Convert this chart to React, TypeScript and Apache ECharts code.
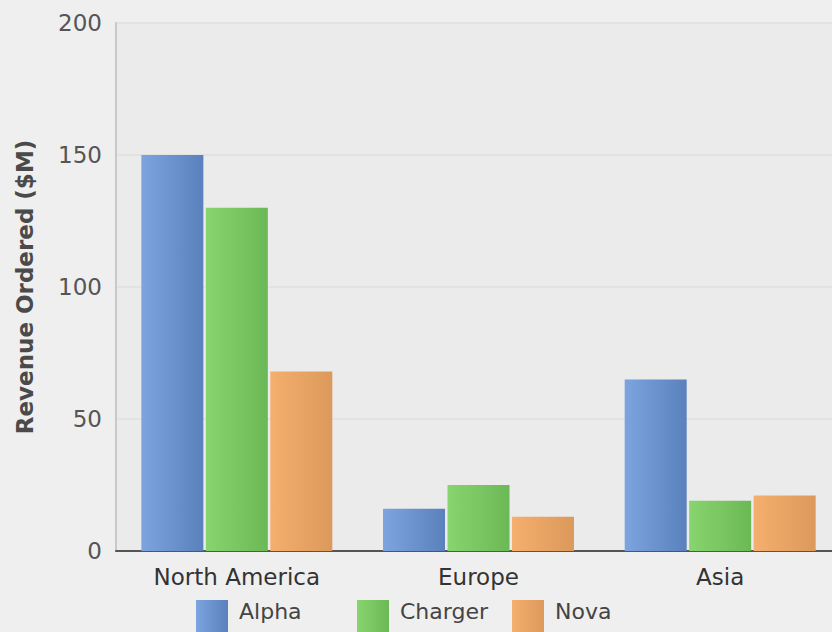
import React, { useEffect, useRef } from "react";
import * as echarts from "echarts";

const categories = ["North America", "Europe", "Asia"];
const seriesNames = ["Alpha", "Charger", "Nova"];
const alphaValues = [150, 16, 65];
const chargerValues = [130, 25, 19];
const novaValues = [68, 13, 21];
const yTicks = [0, 50, 100, 150, 200];

const grad = (a: string, b: string) =>
  new echarts.graphic.LinearGradient(0, 0, 1, 0, [
    { offset: 0, color: a },
    { offset: 1, color: b },
  ]);

const FONT = "DejaVu Sans, Verdana, sans-serif";

export default function App() {
  const ref = useRef<HTMLDivElement>(null);
  useEffect(() => {
    if (!ref.current) return;
    const chart = echarts.init(ref.current, undefined, { renderer: "svg" });
    const colors = [
      grad("#7ca4de", "#5a81bc"),
      grad("#88d56f", "#6bb856"),
      grad("#f5af6e", "#db995b"),
    ];
    const values = [alphaValues, chargerValues, novaValues];
    const legendLefts = [196, 357, 512];
    chart.setOption({
      animation: false,
      backgroundColor: "#efefef",
      textStyle: { fontFamily: FONT },
      grid: {
        left: 116,
        right: -9,
        top: 23,
        bottom: 81,
        show: true,
        backgroundColor: "#ebebeb",
        borderWidth: 0,
        containLabel: false,
        outerBoundsMode: "none",
      },
      legend: seriesNames.map((n, i) => ({
        left: legendLefts[i],
        top: 600,
        itemWidth: 32,
        itemHeight: 34,
        icon: "rect",
        padding: 0,
        data: [n],
        formatter: "{t|{name}}",
        textStyle: {
          fontSize: 22,
          color: "#444",
          fontFamily: FONT,
          rich: {
            t: {
              fontSize: 22,
              color: "#444",
              fontFamily: FONT,
              padding: [0, 0, 12, 6],
            },
          },
        },
      })),
      xAxis: {
        type: "category",
        data: categories,
        axisLine: { show: true, lineStyle: { color: "#555", width: 2 } },
        axisTick: { show: false },
        axisLabel: { fontSize: 23, color: "#333", margin: 14, fontFamily: FONT },
        splitLine: { show: false },
      },
      yAxis: {
        type: "value",
        min: yTicks[0],
        max: yTicks[yTicks.length - 1],
        interval: 50,
        name: "Revenue Ordered ($M)",
        nameLocation: "middle",
        nameGap: 80,
        nameRotate: 90,
        nameTextStyle: {
          fontSize: 23,
          color: "#4a4a4a",
          fontWeight: "bold",
          fontFamily: FONT,
        },
        axisLine: { show: true, lineStyle: { color: "#c8c8c8", width: 2 } },
        axisTick: { show: false },
        axisLabel: { fontSize: 23, color: "#555", margin: 14, fontFamily: FONT },
        splitLine: {
          show: true,
          lineStyle: { color: "#dfdfdf", width: 1.5 },
        },
      },
      series: seriesNames.map((n, i) => ({
        name: n,
        type: "bar",
        data: values[i],
        barWidth: 62,
        barGap: "4%",
        itemStyle: { color: colors[i] },
      })),
    });
    return () => chart.dispose();
  }, []);
  return (
    <div
      ref={ref}
      style={{ position: "absolute", left: 0, top: 0, width: 832, height: 632 }}
    />
  );
}
